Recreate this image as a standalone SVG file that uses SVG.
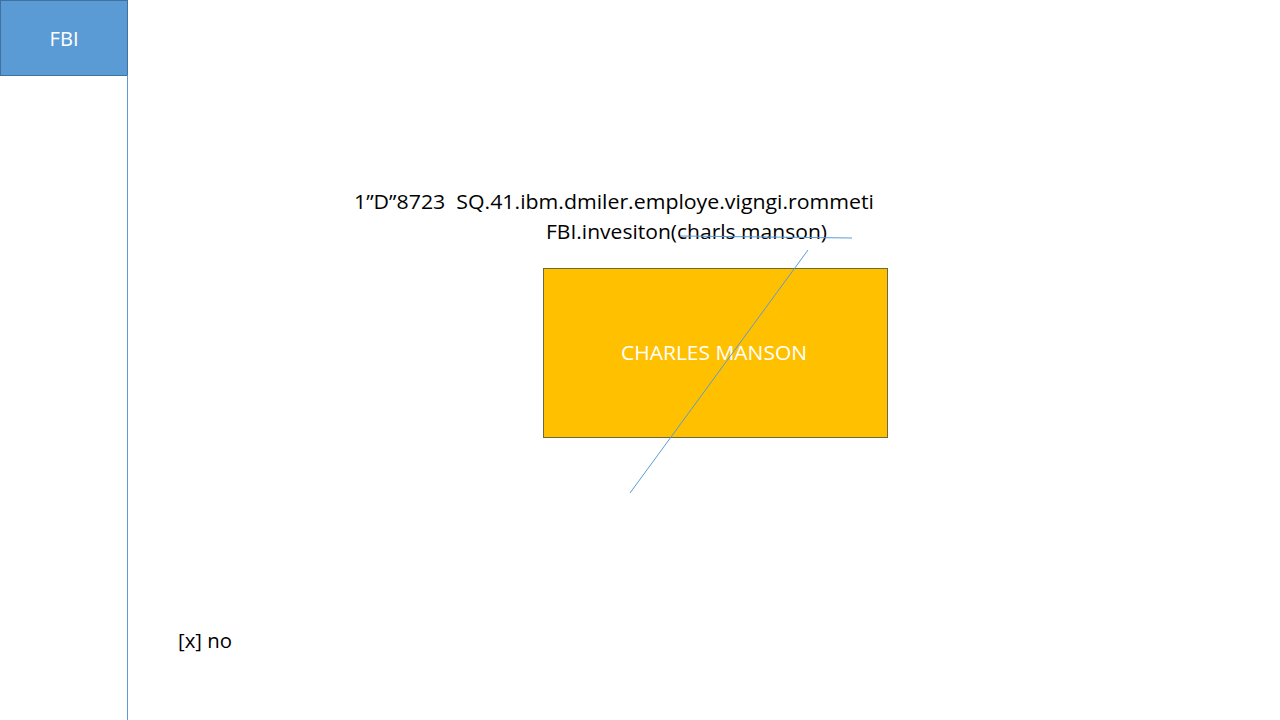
<svg xmlns="http://www.w3.org/2000/svg" width="1280" height="720" viewBox="0 0 1280 720">
<style>
text{font-family:"Open Sans","Liberation Sans",sans-serif;font-size:20px}
.dark{fill:#000}
.light{fill:#fff}
.conn{stroke:#5B9BD5;stroke-width:1;fill:none}
</style>
<rect width="1280" height="720" fill="#fff"/>
<g id="fbi">
<rect x="0.5" y="0.5" width="127" height="75" fill="#5B9BD5" stroke="#41719C" stroke-width="1"/>
<text class="light" x="64" y="46" text-anchor="middle" textLength="29" lengthAdjust="spacingAndGlyphs">FBI</text>
</g>
<g id="manson">
<rect x="543.5" y="268.5" width="344" height="169" fill="#FFC000" stroke="#6B6B3A" stroke-width="1"/>
<text class="light" x="714" y="360" text-anchor="middle" textLength="186" lengthAdjust="spacingAndGlyphs">CHARLES MANSON</text>
</g>
<g id="labels">
<text class="dark" x="354" y="209" textLength="520" lengthAdjust="spacingAndGlyphs">1”D”8723&#160; SQ.41.ibm.dmiler.employe.vigngi.rommeti</text>
<text class="dark" x="546" y="239" textLength="281" lengthAdjust="spacingAndGlyphs">FBI.invesiton(charls manson)</text>
<text class="dark" x="178" y="648" textLength="54" lengthAdjust="spacingAndGlyphs">[x] no</text>
</g>
<g id="connectors">
<line class="conn" x1="127.5" y1="75" x2="127.5" y2="720"/>
<line class="conn" x1="680" y1="236" x2="852" y2="238"/>
<line class="conn" x1="808" y1="250" x2="630" y2="493"/>
</g>
</svg>
